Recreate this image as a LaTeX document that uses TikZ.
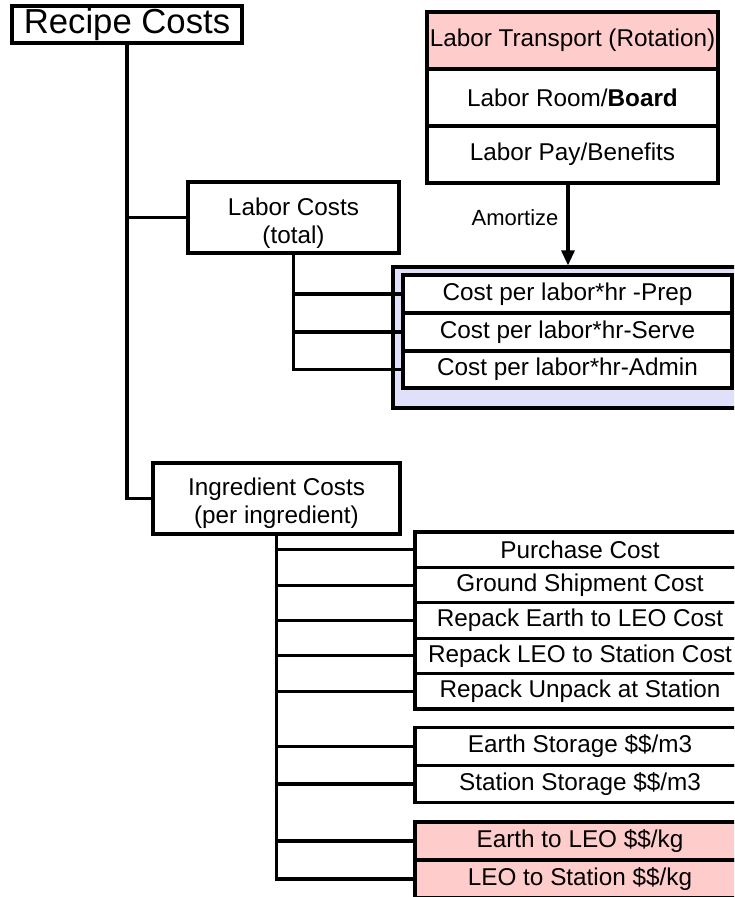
\documentclass[tikz,border=0pt]{standalone}
\usepackage{fontspec}
\setmainfont{Liberation Sans}
\usetikzlibrary{arrows.meta}
\definecolor{pinkfill}{RGB}{255,204,204}
\definecolor{lavfill}{RGB}{224,224,250}
\begin{document}
\begin{tikzpicture}[x=1pt,y=-1pt,
  box/.style={draw=black, line width=3.1pt, inner sep=0pt, rectangle, fill=white,
              font=\fontsize{24.3}{28}\selectfont, align=center},
  pinkbox/.style={box, fill=pinkfill},
  lavbox/.style={draw=black, line width=3.1pt, inner sep=0pt, rectangle, fill=lavfill},
  wire/.style={draw=black, line width=3.1pt},
  arr/.style={draw=black, line width=3.1pt, -{Triangle[width=13pt,length=15pt]}}
]
\useasboundingbox (0,0) rectangle (734,897);
\clip (0,0) rectangle (734,897);
\fill[white] (0,0) rectangle (734,897);

% root
\node[box, minimum width=230pt, minimum height=37pt, font=\fontsize{34.7}{40}\selectfont] (rc) at (127,24.5) {Recipe Costs};

% labor costs
\node[box, minimum width=211pt, minimum height=71pt] (lc) at (293.5,217.5) {\rule{0pt}{29pt}Labor Costs\\(total)};

% top stack
\node[pinkbox, minimum width=291pt, minimum height=57pt] (p1) at (572.5,40.5) {Labor Transport (Rotation)};
\node[box, minimum width=291pt, minimum height=57pt] (p2) at (572.5,97.5) {Labor Room/\textbf{Board}};
\node[box, minimum width=291pt, minimum height=57pt] (p3) at (572.5,154.5) {Labor Pay/Benefits};

% lavender group
\node[lavbox, minimum width=352pt, minimum height=141pt] (lav) at (569,337.5) {};
\node[box, minimum width=329pt, minimum height=38pt] (lr1) at (567.5,294) {Cost per labor*hr -Prep};
\node[box, minimum width=329pt, minimum height=38pt] (lr2) at (567.5,332) {Cost per labor*hr-Serve};
\node[box, minimum width=329pt, minimum height=37pt] (lr3) at (567.5,369.5) {Cost per labor*hr-Admin};

% amortize arrow
\coordinate (as) at ([xshift=-4.5pt]p3.south);
\draw[arr] (as) -- (as |- lav.north);
\node[font=\fontsize{22}{26}\selectfont, inner sep=0pt] (am) at (515,218) {Amortize};

% ingredient costs
\node[box, minimum width=247pt, minimum height=71pt] (ing) at (276.5,498.5) {\rule{0pt}{28pt}Ingredient Costs\\(per ingredient)};

% ingredient rows
\node[box, minimum width=330pt, minimum height=35.4pt] (i1) at (580,549.7) {Purchase Cost};
\node[box, minimum width=330pt, minimum height=35.4pt] (i2) at (580,585.1) {Ground Shipment Cost};
\node[box, minimum width=330pt, minimum height=35.4pt] (i3) at (580,620.5) {Repack Earth to LEO Cost};
\node[box, minimum width=330pt, minimum height=35.4pt] (i4) at (580,655.9) {Repack LEO to Station Cost};
\node[box, minimum width=330pt, minimum height=35.4pt] (i5) at (580,691.3) {Repack Unpack at Station};
\node[box, minimum width=330pt, minimum height=37.5pt] (i6) at (580,746.5) {Earth Storage \$\$/m3};
\node[box, minimum width=330pt, minimum height=37.5pt] (i7) at (580,784) {Station Storage \$\$/m3};
\node[pinkbox, minimum width=330pt, minimum height=38pt] (i8) at (580,841) {Earth to LEO \$\$/kg};
\node[pinkbox, minimum width=330pt, minimum height=38pt] (i9) at (580,879) {LEO to Station \$\$/kg};

% trunk
\draw[wire] (rc.south) |- (ing.west);
\draw[wire] (rc.south |- lc.west) -- (lc.west);

% labor branches
\draw[wire] (lc.south) |- (lr3.west);
\draw[wire] (lc.south |- lr1.west) -- (lr1.west);
\draw[wire] (lc.south |- lr2.west) -- (lr2.west);

% ingredient branches
\draw[wire] (ing.south) |- (i9.west);
\foreach \n in {i1,i2,i3,i4,i5,i6,i7,i8}{
  \draw[wire] (ing.south |- \n.west) -- (\n.west);
}
\end{tikzpicture}
\end{document}
